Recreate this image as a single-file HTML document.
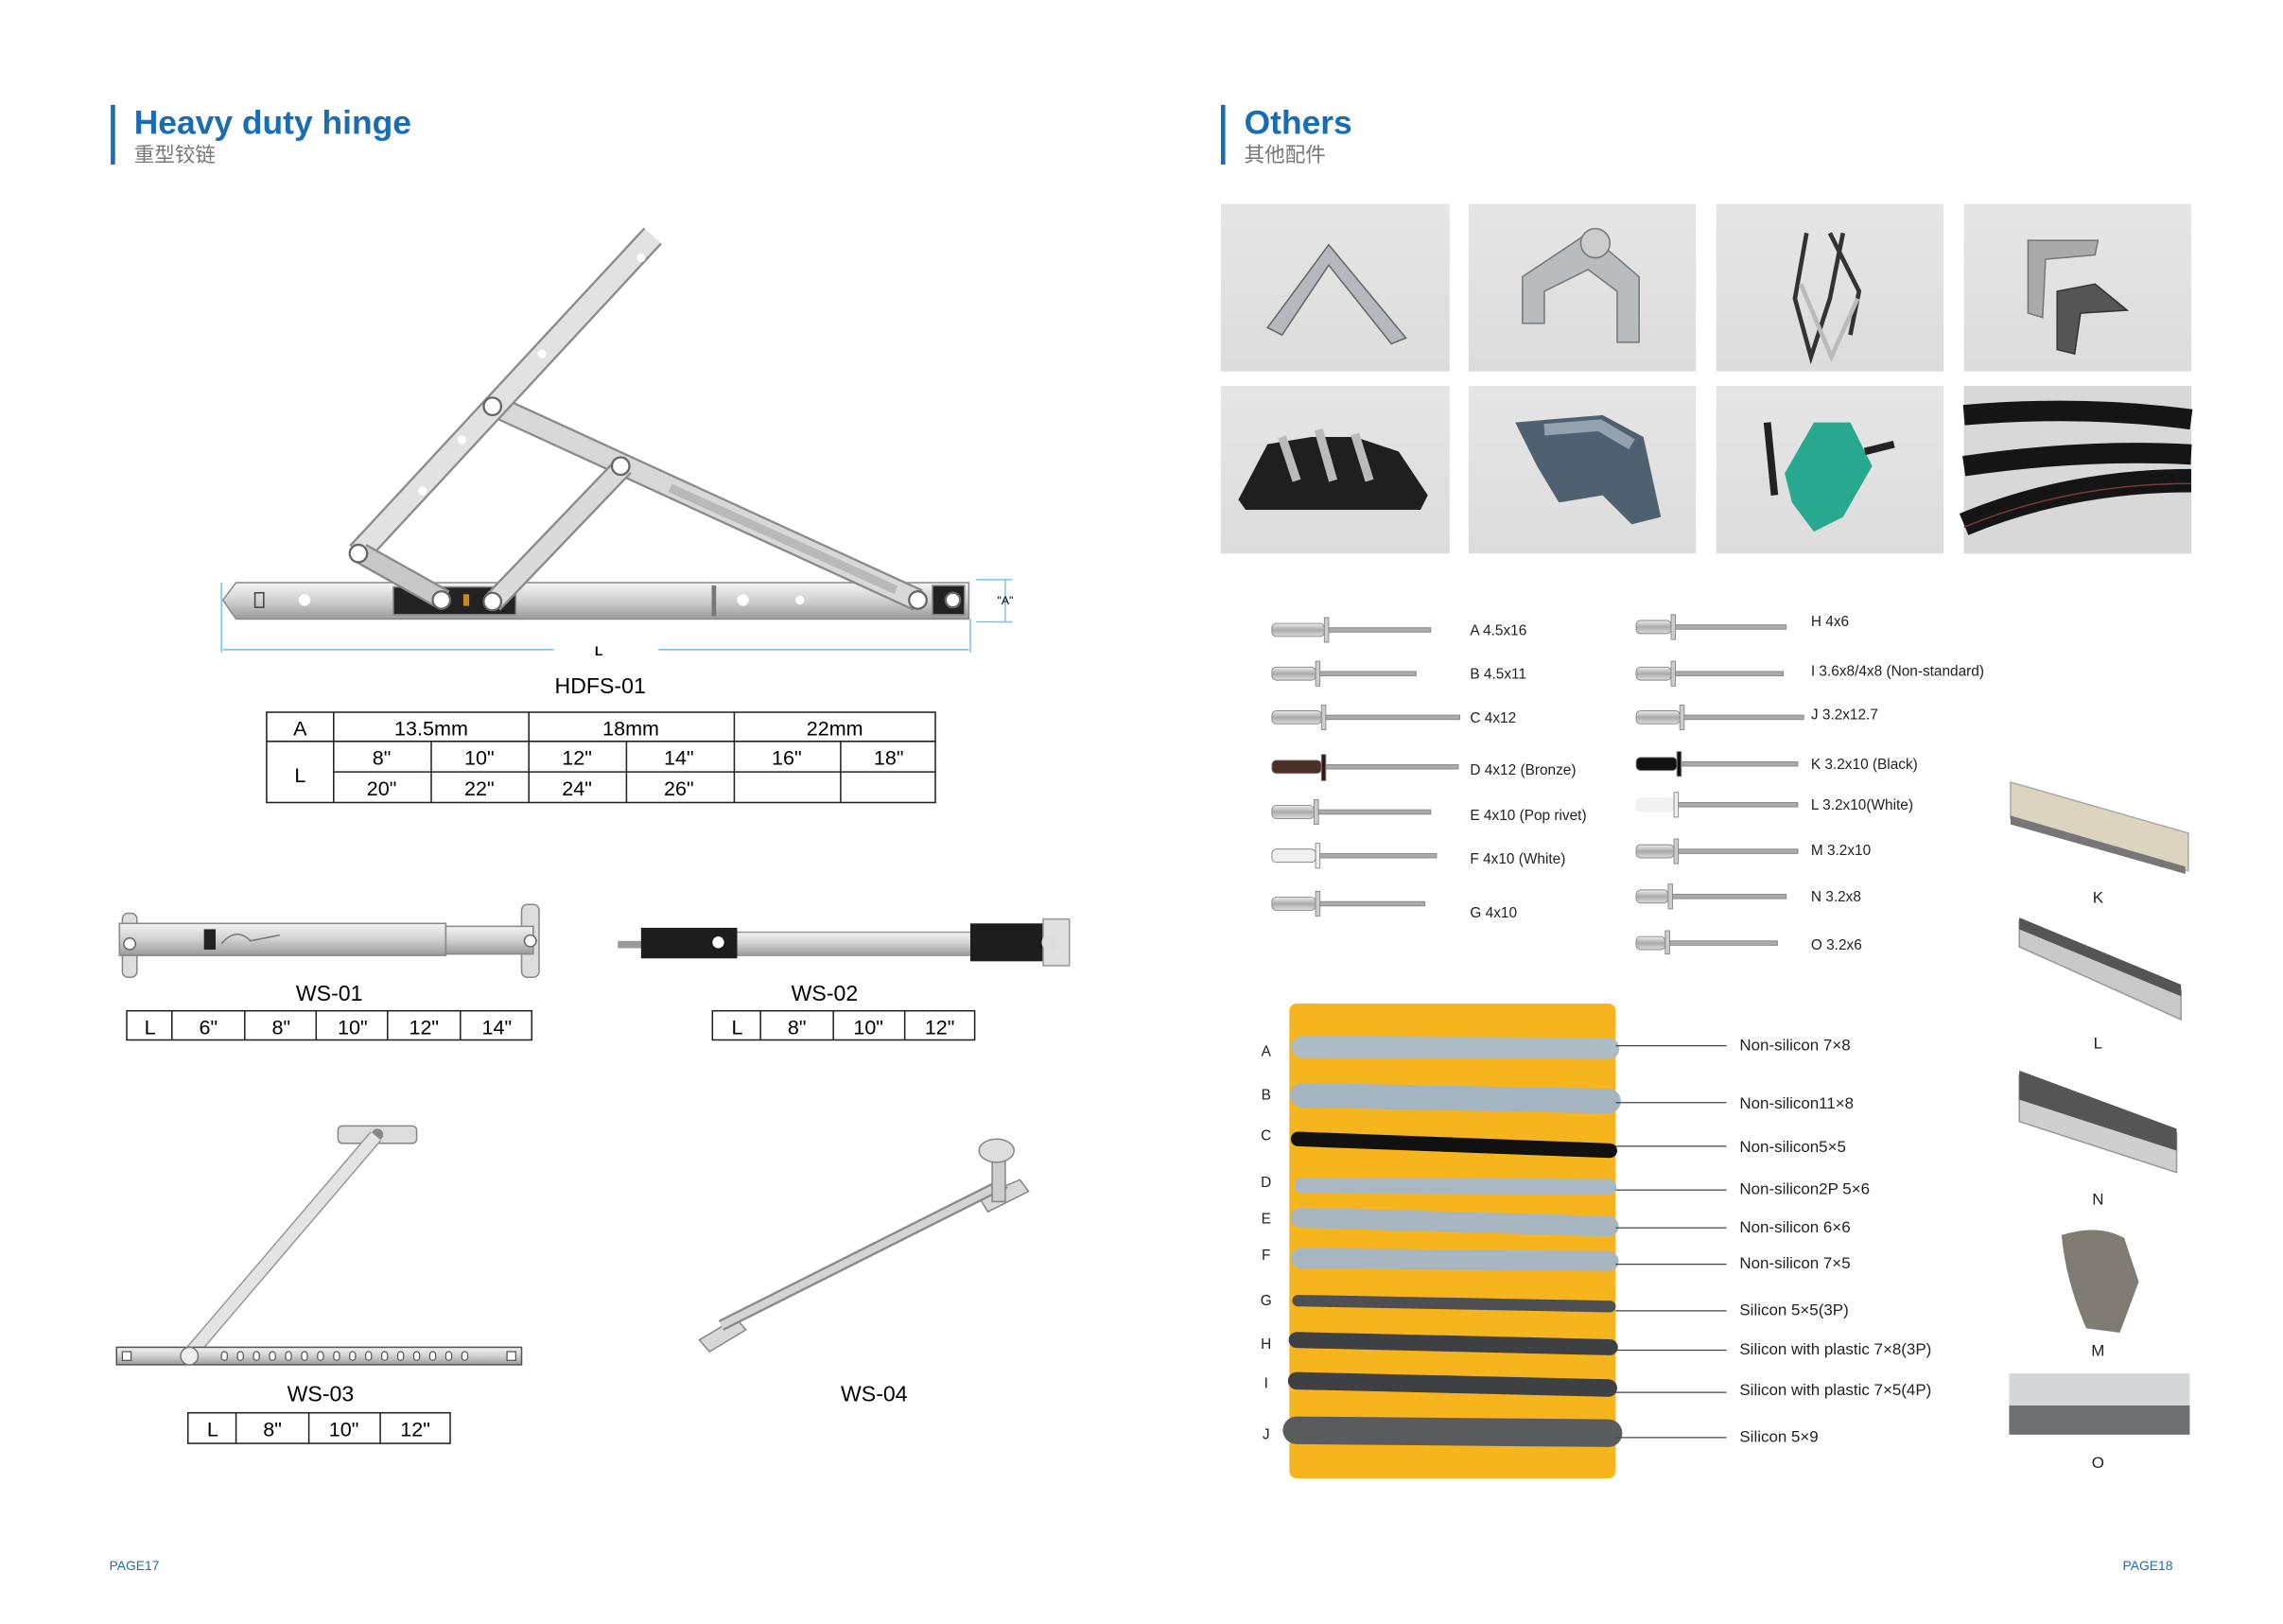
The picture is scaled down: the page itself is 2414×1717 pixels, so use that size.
<!DOCTYPE html>
<html><head><meta charset="utf-8"><style>
html,body{margin:0;padding:0;background:#fff;}
svg{display:block;}
text{font-family:"Liberation Sans","Noto Sans CJK SC",sans-serif;}
.n{font-family:"Liberation Sans Narrow","Liberation Sans",sans-serif;}
</style></head><body>
<svg width="2414" height="1717" viewBox="0 0 1567 1115" preserveAspectRatio="none" xmlns="http://www.w3.org/2000/svg">
<defs>
<linearGradient id="met" x1="0" y1="0" x2="0" y2="1"><stop offset="0" stop-color="#f4f4f4"/><stop offset=".5" stop-color="#d0d0d0"/><stop offset="1" stop-color="#9a9a9a"/></linearGradient>
<linearGradient id="rv" x1="0" y1="0" x2="0" y2="1"><stop offset="0" stop-color="#eee"/><stop offset=".5" stop-color="#aaa"/><stop offset="1" stop-color="#ddd"/></linearGradient>
<linearGradient id="tile" x1="0" y1="0" x2="0" y2="1"><stop offset="0" stop-color="#e6e6e6"/><stop offset="1" stop-color="#dcdcdc"/></linearGradient>
</defs>
<rect width="1567" height="1115" fill="#fff"/>

<!-- LEFT PAGE -->
<rect x="76" y="72" width="3" height="41" fill="#1a6db3"/>
<text x="92" y="92" font-size="23" font-weight="bold" fill="#1a6db3">Heavy duty hinge</text>
<text x="92" y="111" font-size="14" fill="#777">重型铰链</text>

<g stroke="#8a8a8a" stroke-width="1">
<polygon points="153,412 162,400 665,400 665,425 162,425" fill="url(#met)"/>
<rect x="270" y="403" width="84" height="19" fill="#222"/>
<rect x="640" y="402" width="22" height="20" fill="#222"/>
<line x1="338" y1="278" x2="630" y2="412" stroke="#8a8a8a" stroke-width="16"/>
<line x1="338" y1="278" x2="630" y2="412" stroke="#d8d8d8" stroke-width="13"/>
<line x1="460" y1="335" x2="615" y2="405" stroke="#b9b9b9" stroke-width="6"/>
<line x1="428" y1="320" x2="338" y2="414" stroke="#8a8a8a" stroke-width="15"/>
<line x1="428" y1="320" x2="338" y2="414" stroke="#dadada" stroke-width="12"/>
<line x1="448" y1="162" x2="246" y2="380" stroke="#8a8a8a" stroke-width="17"/>
<line x1="448" y1="162" x2="246" y2="380" stroke="#e2e2e2" stroke-width="14"/>
<line x1="248" y1="380" x2="305" y2="412" stroke="#8a8a8a" stroke-width="15"/>
<line x1="248" y1="380" x2="305" y2="412" stroke="#c8c8c8" stroke-width="12"/>
</g>
<g fill="#fff" stroke="#666" stroke-width="1.5">
<circle cx="338" cy="279" r="6"/><circle cx="426" cy="320" r="6"/><circle cx="246" cy="380" r="6"/>
<circle cx="303" cy="412" r="6"/><circle cx="338" cy="413" r="6"/><circle cx="630" cy="412" r="6"/>
<circle cx="654" cy="412" r="5"/>
</g>
<g fill="#fff"><circle cx="372" cy="243" r="3"/><circle cx="317" cy="302" r="3"/><circle cx="290" cy="337" r="3"/><circle cx="440" cy="177" r="3"/><circle cx="209" cy="412" r="4"/><circle cx="549" cy="412" r="3"/><circle cx="510" cy="412" r="4"/></g>
<rect x="175" y="407" width="6" height="10" fill="none" stroke="#444"/>
<rect x="318" y="408" width="4" height="8" fill="#c8891f"/>
<line x1="490" y1="402" x2="490" y2="423" stroke="#777" stroke-width="3"/>
<line x1="153" y1="446" x2="380" y2="446" stroke="#7fc2e6"/>
<line x1="452" y1="446" x2="665" y2="446" stroke="#7fc2e6"/>
<line x1="152" y1="400" x2="152" y2="448" stroke="#7fc2e6"/>
<line x1="666" y1="425" x2="666" y2="448" stroke="#7fc2e6"/>
<text x="411" y="450" font-size="9" font-weight="bold" text-anchor="middle">L</text>
<line x1="690" y1="398" x2="690" y2="427" stroke="#7fc2e6"/>
<line x1="670" y1="398" x2="695" y2="398" stroke="#7fc2e6"/><line x1="670" y1="427" x2="695" y2="427" stroke="#7fc2e6"/>
<text x="690" y="415" font-size="8" text-anchor="middle">"A"</text>
<text x="412" y="476" font-size="15" text-anchor="middle" class="n">HDFS-01</text>

<g stroke="#222" stroke-width="1" fill="none">
<rect x="183" y="489" width="459" height="62"/>
<line x1="229" y1="489" x2="229" y2="551"/>
<line x1="183" y1="509" x2="642" y2="509"/><line x1="229" y1="530" x2="642" y2="530"/>
<line x1="363" y1="489" x2="363" y2="551"/><line x1="504" y1="489" x2="504" y2="551"/>
<line x1="296" y1="509" x2="296" y2="551"/><line x1="430" y1="509" x2="430" y2="551"/><line x1="577" y1="509" x2="577" y2="551"/>
</g>
<rect x="184" y="510" width="44" height="40" fill="#fff"/>
<g font-size="14" text-anchor="middle" class="n">
<text x="206" y="505">A</text><text x="296" y="505">13.5mm</text><text x="433" y="505">18mm</text><text x="573" y="505">22mm</text>
<text x="206" y="537">L</text>
<text x="262" y="525">8"</text><text x="329" y="525">10"</text><text x="396" y="525">12"</text><text x="466" y="525">14"</text><text x="540" y="525">16"</text><text x="610" y="525">18"</text>
<text x="262" y="546">20"</text><text x="329" y="546">22"</text><text x="396" y="546">24"</text><text x="466" y="546">26"</text>
</g>

<!-- WS-01 -->
<g stroke="#888">
<rect x="84" y="627" width="10" height="44" rx="4" fill="#ddd"/>
<rect x="358" y="621" width="12" height="50" rx="4" fill="#ddd"/>
<rect x="82" y="634" width="224" height="22" fill="url(#met)"/>
<rect x="306" y="636" width="60" height="19" fill="url(#met)"/>
</g>
<rect x="140" y="638" width="8" height="14" fill="#222"/>
<path d="M152 648 q10 -12 20 -2 l20 -4" stroke="#777" fill="none"/>
<circle cx="89" cy="648" r="4" fill="#fff" stroke="#666"/><circle cx="364" cy="646" r="4" fill="#fff" stroke="#666"/>
<text x="226" y="687" font-size="15" text-anchor="middle" class="n">WS-01</text>
<g stroke="#222" fill="none"><rect x="87" y="694" width="278" height="20"/>
<line x1="118" y1="694" x2="118" y2="714"/><line x1="168" y1="694" x2="168" y2="714"/><line x1="217" y1="694" x2="217" y2="714"/><line x1="266" y1="694" x2="266" y2="714"/><line x1="316" y1="694" x2="316" y2="714"/></g>
<g font-size="14" text-anchor="middle" class="n"><text x="103" y="710">L</text><text x="143" y="710">6"</text><text x="193" y="710">8"</text><text x="242" y="710">10"</text><text x="291" y="710">12"</text><text x="341" y="710">14"</text></g>

<!-- WS-02 -->
<rect x="424" y="646" width="20" height="5" fill="#999"/>
<rect x="505" y="640" width="165" height="16" fill="url(#met)" stroke="#999"/>
<rect x="440" y="637" width="66" height="21" fill="#1d1d1d"/>
<circle cx="493" cy="647" r="4" fill="#fff"/>
<rect x="666" y="634" width="52" height="26" fill="#1d1d1d"/>
<rect x="716" y="631" width="18" height="32" fill="#e0e0e0" stroke="#999"/>
<circle cx="720" cy="647" r="5" fill="#ddd"/>
<text x="566" y="687" font-size="15" text-anchor="middle" class="n">WS-02</text>
<g stroke="#222" fill="none"><rect x="489" y="694" width="180" height="20"/>
<line x1="522" y1="694" x2="522" y2="714"/><line x1="572" y1="694" x2="572" y2="714"/><line x1="621" y1="694" x2="621" y2="714"/></g>
<g font-size="14" text-anchor="middle" class="n"><text x="506" y="710">L</text><text x="547" y="710">8"</text><text x="596" y="710">10"</text><text x="645" y="710">12"</text></g>

<!-- WS-03 -->
<rect x="232" y="773" width="54" height="12" rx="3" fill="#ddd" stroke="#888"/>
<circle cx="259" cy="779" r="4" fill="#888"/>
<line x1="258" y1="780" x2="130" y2="930" stroke="#999" stroke-width="10"/>
<line x1="258" y1="780" x2="130" y2="930" stroke="#e4e4e4" stroke-width="8"/>
<rect x="80" y="925" width="278" height="12" fill="url(#met)" stroke="#555"/>
<g fill="#fff" stroke="#555" stroke-width=".8">
<rect x="84" y="928" width="6" height="6"/><rect x="348" y="928" width="6" height="6"/>
<rect x="152" y="928" width="4" height="6" rx="2"/><rect x="163" y="928" width="4" height="6" rx="2"/><rect x="174" y="928" width="4" height="6" rx="2"/><rect x="185" y="928" width="4" height="6" rx="2"/><rect x="196" y="928" width="4" height="6" rx="2"/><rect x="207" y="928" width="4" height="6" rx="2"/><rect x="218" y="928" width="4" height="6" rx="2"/><rect x="229" y="928" width="4" height="6" rx="2"/><rect x="240" y="928" width="4" height="6" rx="2"/><rect x="251" y="928" width="4" height="6" rx="2"/><rect x="262" y="928" width="4" height="6" rx="2"/><rect x="273" y="928" width="4" height="6" rx="2"/><rect x="284" y="928" width="4" height="6" rx="2"/><rect x="295" y="928" width="4" height="6" rx="2"/><rect x="306" y="928" width="4" height="6" rx="2"/><rect x="317" y="928" width="4" height="6" rx="2"/>
</g>
<circle cx="130" cy="931" r="6" fill="#eee" stroke="#777"/>
<text x="220" y="962" font-size="15" text-anchor="middle" class="n">WS-03</text>
<g stroke="#222" fill="none"><rect x="129" y="970" width="180" height="21"/>
<line x1="162" y1="970" x2="162" y2="991"/><line x1="212" y1="970" x2="212" y2="991"/><line x1="261" y1="970" x2="261" y2="991"/></g>
<g font-size="14" text-anchor="middle" class="n"><text x="146" y="986">L</text><text x="187" y="986">8"</text><text x="236" y="986">10"</text><text x="285" y="986">12"</text></g>

<!-- WS-04 -->
<polygon points="480,920 505,905 512,913 487,928" fill="#d8d8d8" stroke="#888"/>
<polygon points="672,822 700,810 706,818 678,832" fill="#d8d8d8" stroke="#888"/>
<line x1="495" y1="910" x2="690" y2="812" stroke="#888" stroke-width="8"/>
<line x1="495" y1="910" x2="690" y2="812" stroke="#d4d4d4" stroke-width="5"/>
<rect x="681" y="795" width="9" height="30" fill="#ccc" stroke="#888"/>
<ellipse cx="684" cy="790" rx="12" ry="8" fill="#ddd" stroke="#888"/>
<text x="600" y="962" font-size="15" text-anchor="middle" class="n">WS-04</text>

<text x="75" y="1078" font-size="9" fill="#1a6db3">PAGE17</text>

<!-- RIGHT PAGE -->
<rect x="838" y="72" width="3" height="41" fill="#1a6db3"/>
<text x="854" y="92" font-size="23" font-weight="bold" fill="#1a6db3">Others</text>
<text x="854" y="111" font-size="14" fill="#777">其他配件</text>

<g fill="url(#tile)">
<rect x="838" y="140" width="157" height="115"/><rect x="1008" y="140" width="156" height="115"/><rect x="1178" y="140" width="156" height="115"/><rect x="1348" y="140" width="156" height="115"/>
<rect x="838" y="265" width="157" height="115"/><rect x="1008" y="265" width="156" height="115"/><rect x="1178" y="265" width="156" height="115"/><rect x="1348" y="265" width="156" height="115"/>
</g>
<path d="M870 225 L912 168 L965 232 L955 236 L912 182 L880 230 Z" fill="#b5b9bd" stroke="#666"/>
<path d="M1045 222 L1045 190 L1090 160 L1125 190 L1125 235 L1110 235 L1110 200 L1090 185 L1060 200 L1060 222 Z" fill="#b8bcbf" stroke="#777"/>
<circle cx="1095" cy="167" r="10" fill="#ccc" stroke="#777"/>
<path d="M1240 160 L1232 205 L1243 245 L1256 205 L1265 160 M1256 160 L1276 200 L1270 230" fill="none" stroke="#333" stroke-width="3"/>
<path d="M1236 195 L1257 245 L1275 205" fill="none" stroke="#bbb" stroke-width="3"/>
<path d="M1392 165 L1440 165 L1438 175 L1404 178 L1402 218 L1392 215 Z" fill="#aaa" stroke="#777"/>
<path d="M1412 200 L1438 195 L1460 213 L1428 215 L1424 243 L1412 240 Z" fill="#555" stroke="#333"/>
<path d="M850 343 L870 305 L900 300 L930 300 L960 310 L980 340 L975 350 L855 350 Z" fill="#1f1f1f"/>
<path d="M880 300 L890 330 M905 295 L915 330 M930 298 L940 330" stroke="#bbb" stroke-width="6"/>
<path d="M1040 290 L1100 285 L1128 300 L1140 355 L1120 360 L1100 340 L1070 345 L1055 320 Z" fill="#4f6170"/>
<path d="M1060 295 L1098 292 L1120 305" stroke="#93a2ae" stroke-width="8" fill="none"/>
<path d="M1225 325 L1245 290 L1270 290 L1285 320 L1265 355 L1245 365 L1230 345 Z" fill="#27a88f"/>
<path d="M1213 290 L1218 340 M1280 310 L1300 305" stroke="#222" stroke-width="5"/>
<rect x="1348" y="265" width="156" height="115" fill="#d8d8d8"/>
<path d="M1348 285 Q1430 278 1504 288" stroke="#151515" stroke-width="14" fill="none"/>
<path d="M1348 320 Q1430 308 1504 312" stroke="#151515" stroke-width="14" fill="none"/>
<path d="M1348 360 Q1420 330 1504 330" stroke="#151515" stroke-width="16" fill="none"/>
<path d="M1348 362 Q1420 332 1504 332" stroke="#7a3a3a" stroke-width="1" fill="none"/>

<!-- rivets -->
<g stroke="#888" stroke-width=".6">
<rect x="873" y="428" width="36" height="9" rx="3" fill="url(#rv)"/><rect x="909" y="424" width="3" height="17" fill="#ccc"/><rect x="912" y="431" width="70" height="3" fill="#aaa"/>
<rect x="873" y="458" width="30" height="9" rx="3" fill="url(#rv)"/><rect x="903" y="454" width="3" height="17" fill="#ccc"/><rect x="906" y="461" width="66" height="3" fill="#aaa"/>
<rect x="873" y="488" width="34" height="9" rx="3" fill="url(#rv)"/><rect x="907" y="484" width="3" height="17" fill="#ccc"/><rect x="910" y="491" width="92" height="3" fill="#aaa"/>
<rect x="873" y="522" width="34" height="9" rx="3" fill="#4a3025"/><rect x="907" y="518" width="3" height="18" fill="#2b1b14"/><rect x="910" y="525" width="91" height="3" fill="#aaa"/>
<rect x="873" y="553" width="29" height="9" rx="3" fill="url(#rv)"/><rect x="902" y="549" width="3" height="17" fill="#ccc"/><rect x="905" y="556" width="77" height="3" fill="#aaa"/>
<rect x="873" y="583" width="30" height="9" rx="3" fill="#f0f0f0"/><rect x="903" y="579" width="3" height="17" fill="#eee"/><rect x="906" y="586" width="80" height="3" fill="#aaa"/>
<rect x="873" y="616" width="30" height="9" rx="3" fill="url(#rv)"/><rect x="903" y="612" width="3" height="17" fill="#ccc"/><rect x="906" y="619" width="72" height="3" fill="#aaa"/>
<rect x="1123" y="426" width="24" height="9" rx="3" fill="url(#rv)"/><rect x="1147" y="422" width="3" height="17" fill="#ccc"/><rect x="1150" y="429" width="76" height="3" fill="#aaa"/>
<rect x="1123" y="458" width="24" height="9" rx="3" fill="url(#rv)"/><rect x="1147" y="454" width="3" height="17" fill="#ccc"/><rect x="1150" y="461" width="74" height="3" fill="#aaa"/>
<rect x="1123" y="488" width="30" height="9" rx="3" fill="url(#rv)"/><rect x="1153" y="484" width="3" height="17" fill="#ccc"/><rect x="1156" y="491" width="82" height="3" fill="#aaa"/>
<rect x="1123" y="520" width="28" height="9" rx="3" fill="#111"/><rect x="1151" y="516" width="3" height="17" fill="#111"/><rect x="1154" y="523" width="80" height="3" fill="#aaa"/>
<rect x="1123" y="548" width="26" height="9" rx="3" fill="#f2f2f2" stroke="#eee"/><rect x="1149" y="544" width="3" height="17" fill="#eee"/><rect x="1152" y="551" width="82" height="3" fill="#aaa"/>
<rect x="1123" y="580" width="26" height="9" rx="3" fill="url(#rv)"/><rect x="1149" y="576" width="3" height="17" fill="#ccc"/><rect x="1152" y="583" width="82" height="3" fill="#aaa"/>
<rect x="1123" y="611" width="22" height="9" rx="3" fill="url(#rv)"/><rect x="1145" y="607" width="3" height="17" fill="#ccc"/><rect x="1148" y="614" width="78" height="3" fill="#aaa"/>
<rect x="1123" y="643" width="20" height="9" rx="3" fill="url(#rv)"/><rect x="1143" y="639" width="3" height="16" fill="#ccc"/><rect x="1146" y="646" width="74" height="3" fill="#aaa"/>
</g>
<g font-size="10" class="n" fill="#222">
<text x="1009" y="436">A  4.5x16</text><text x="1009" y="466">B  4.5x11</text><text x="1009" y="496">C  4x12</text><text x="1009" y="532">D  4x12 (Bronze)</text><text x="1009" y="563">E  4x10 (Pop rivet)</text><text x="1009" y="593">F  4x10 (White)</text><text x="1009" y="630">G  4x10</text>
<text x="1243" y="430">H  4x6</text><text x="1243" y="464">I   3.6x8/4x8 (Non-standard)</text><text x="1243" y="494">J  3.2x12.7</text><text x="1243" y="528">K  3.2x10 (Black)</text><text x="1243" y="556">L  3.2x10(White)</text><text x="1243" y="587">M 3.2x10</text><text x="1243" y="619">N  3.2x8</text><text x="1243" y="652">O  3.2x6</text>
</g>

<!-- yellow board -->
<rect x="885" y="689" width="224" height="326" rx="5" fill="#f6b51c"/>
<g stroke-linecap="round">
<line x1="894" y1="719" x2="1104" y2="720" stroke="#aebcc6" stroke-width="15"/>
<line x1="894" y1="752" x2="1104" y2="756" stroke="#a4b5c1" stroke-width="17"/>
<line x1="891" y1="782" x2="1105" y2="790" stroke="#111" stroke-width="10"/>
<line x1="894" y1="814" x2="1104" y2="815" stroke="#a9b8c2" stroke-width="11"/>
<line x1="893" y1="836" x2="1104" y2="842" stroke="#a7b6c0" stroke-width="14"/>
<line x1="893" y1="864" x2="1104" y2="866" stroke="#a7b6c0" stroke-width="14"/>
<line x1="891" y1="893" x2="1105" y2="897" stroke="#4d4f52" stroke-width="8"/>
<line x1="890" y1="920" x2="1105" y2="925" stroke="#3e4043" stroke-width="11"/>
<line x1="890" y1="948" x2="1104" y2="953" stroke="#3e4043" stroke-width="12"/>
<line x1="890" y1="982" x2="1104" y2="984" stroke="#5a5b5e" stroke-width="19"/>
</g>
<g stroke="#444" stroke-width=".8">
<line x1="1109" y1="718" x2="1185" y2="718"/><line x1="1109" y1="757" x2="1185" y2="757"/><line x1="1109" y1="787" x2="1185" y2="787"/><line x1="1109" y1="817" x2="1185" y2="817"/><line x1="1109" y1="843" x2="1185" y2="843"/><line x1="1109" y1="868" x2="1185" y2="868"/><line x1="1109" y1="900" x2="1185" y2="900"/><line x1="1109" y1="927" x2="1185" y2="927"/><line x1="1109" y1="956" x2="1185" y2="956"/><line x1="1109" y1="987" x2="1185" y2="987"/>
</g>
<g font-size="11" class="n" fill="#222">
<text x="1194" y="721">Non-silicon 7×8</text><text x="1194" y="761">Non-silicon11×8</text><text x="1194" y="791">Non-silicon5×5</text><text x="1194" y="820">Non-silicon2P 5×6</text><text x="1194" y="846">Non-silicon 6×6</text><text x="1194" y="871">Non-silicon 7×5</text><text x="1194" y="903">Silicon 5×5(3P)</text><text x="1194" y="930">Silicon with plastic 7×8(3P)</text><text x="1194" y="958">Silicon with plastic 7×5(4P)</text><text x="1194" y="990">Silicon 5×9</text>
</g>
<g font-size="10" class="n" fill="#222" text-anchor="middle">
<text x="869" y="725">A</text><text x="869" y="755">B</text><text x="869" y="783">C</text><text x="869" y="815">D</text><text x="869" y="840">E</text><text x="869" y="865">F</text><text x="869" y="896">G</text><text x="869" y="926">H</text><text x="869" y="953">I</text><text x="869" y="988">J</text>
</g>

<polygon points="1380,537 1502,572 1502,598 1380,562" fill="#ddd4bf" stroke="#aaa"/>
<polygon points="1380,560 1500,595 1500,600 1380,566" fill="#777"/>
<polygon points="1386,632 1497,680 1497,700 1386,650" fill="#c9c9c9" stroke="#999"/>
<polygon points="1386,630 1497,676 1497,684 1386,638" fill="#555"/>
<polygon points="1386,738 1494,778 1494,805 1386,770" fill="#cfcfcf" stroke="#999"/>
<polygon points="1386,735 1494,775 1494,790 1386,755" fill="#555"/>
<path d="M1415 848 Q1440 840 1458 850 L1468 880 L1455 915 L1432 912 Q1418 880 1415 848 Z" fill="#807b73"/>
<rect x="1379" y="943" width="124" height="22" fill="#d4d6d8"/>
<rect x="1379" y="965" width="124" height="20" fill="#6e7073"/>
<g font-size="11" class="n" fill="#222" text-anchor="middle">
<text x="1440" y="620">K</text><text x="1440" y="720">L</text><text x="1440" y="827">N</text><text x="1440" y="931">M</text><text x="1440" y="1008">O</text>
</g>
<text x="1457" y="1078" font-size="9" fill="#1a6db3">PAGE18</text>
</svg>
</body></html>
